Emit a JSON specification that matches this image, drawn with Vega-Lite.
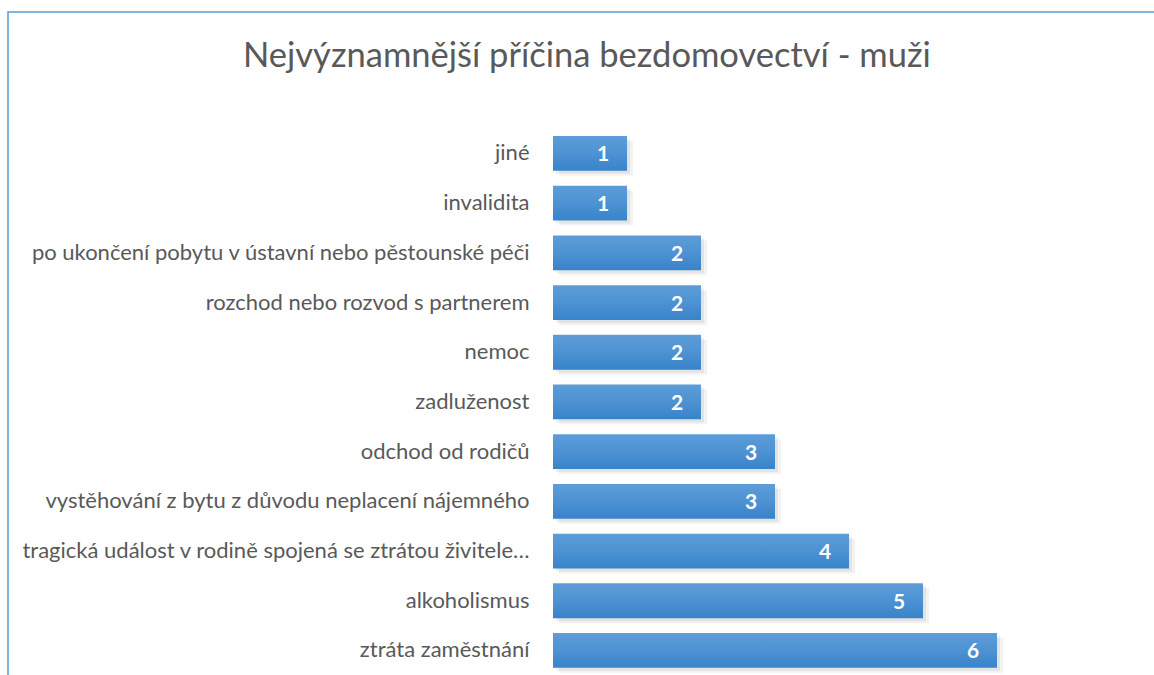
{
  "$schema": "https://vega.github.io/schema/vega-lite/v6.json",
  "width": 1160,
  "height": 680,
  "autosize": {"type": "none"},
  "padding": {"left": 8, "top": 12, "right": 0, "bottom": 0},
  "background": "white",
  "config": {
    "view": {"stroke": "#5b9bd5", "strokeWidth": 1.5},
    "font": "Lato"
  },
  "title": {
    "text": "Nejvýznamnější příčina bezdomovectví - muži",
    "font": "Lato",
    "fontSize": 34.5,
    "fontWeight": "normal",
    "color": "#595959",
    "anchor": "start",
    "frame": "group",
    "dx": 235,
    "offset": -89,
    "baseline": "alphabetic"
  },
  "data": {
    "values": [
      {"cause": "jiné", "count": 1},
      {"cause": "invalidita", "count": 1},
      {"cause": "po ukončení pobytu v ústavní nebo pěstounské péči", "count": 2},
      {"cause": "rozchod nebo rozvod s partnerem", "count": 2},
      {"cause": "nemoc", "count": 2},
      {"cause": "zadluženost", "count": 2},
      {"cause": "odchod od rodičů", "count": 3},
      {"cause": "vystěhování z bytu z důvodu neplacení nájemného", "count": 3},
      {"cause": "tragická událost v rodině spojená se ztrátou živitele…", "count": 4},
      {"cause": "alkoholismus", "count": 5},
      {"cause": "ztráta zaměstnání", "count": 6}
    ]
  },
  "encoding": {
    "y": {
      "field": "cause",
      "type": "nominal",
      "sort": null,
      "scale": {"range": [116.6, 663.3], "paddingInner": 0.3, "paddingOuter": 0.15},
      "axis": {
        "title": null,
        "orient": "left",
        "offset": -545,
        "domain": false,
        "ticks": false,
        "tickSize": 0,
        "labelPadding": 24,
        "labelFont": "Lato",
        "labelFontSize": 22,
        "labelColor": "#595959",
        "labelLimit": 0
      }
    },
    "x": {
      "field": "count",
      "type": "quantitative",
      "scale": {"domain": [0, 7], "range": [545, 1063], "nice": false, "zero": true},
      "axis": null
    }
  },
  "layer": [
    {
      "mark": {"type": "bar", "color": "#000000", "opacity": 0.05, "xOffset": 6, "yOffset": 5}
    },
    {
      "mark": {"type": "bar", "color": "#000000", "opacity": 0.06, "xOffset": 3, "yOffset": 3}
    },
    {
      "mark": {
        "type": "bar",
        "color": {
          "gradient": "linear",
          "x1": 0, "y1": 0, "x2": 0, "y2": 1,
          "stops": [
            {"offset": 0, "color": "#5d9dd8"},
            {"offset": 0.5, "color": "#4d92d3"},
            {"offset": 1, "color": "#3883ca"}
          ]
        }
      }
    },
    {
      "mark": {
        "type": "text",
        "align": "center",
        "baseline": "middle",
        "dx": -24,
        "dy": 2,
        "font": "Lato",
        "fontSize": 21,
        "fontWeight": "bold",
        "color": "white"
      },
      "encoding": {
        "text": {"field": "count", "type": "quantitative"}
      }
    }
  ]
}
